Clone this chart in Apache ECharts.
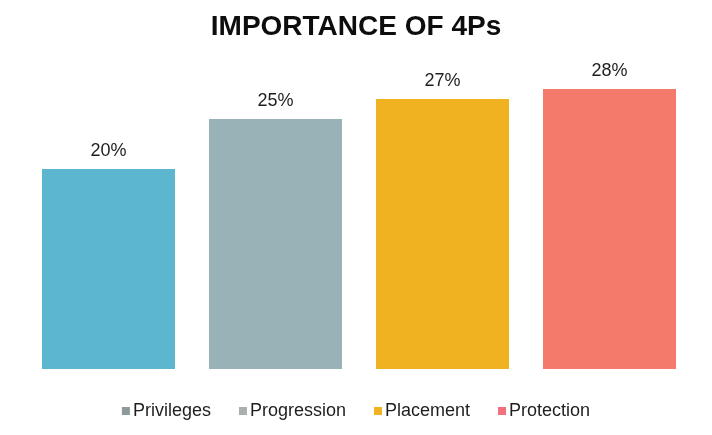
<!DOCTYPE html>
<html>
<head>
<meta charset="utf-8">
<script src="https://cdn.jsdelivr.net/npm/echarts@6/dist/echarts.min.js"></script>
<style>
  html, body { margin: 0; padding: 0; background: #ffffff; }
  #chart { width: 712px; height: 435px; }
</style>
</head>
<body>
<div id="chart"></div>
<script>
// Share of importance for each of the 4Ps (percent)
const categories = ['Privileges', 'Progression', 'Placement', 'Protection'];
const values = [20, 25, 27, 28];
const barColors = ['#5cb6d0', '#98b2b7', '#f1b221', '#f47b6b'];
const legendIconColors = ['#8d9a9a', '#a7afaf', '#f1b221', '#f0707e'];

const FONT = 'Arial';

const chart = echarts.init(document.getElementById('chart'));

// One series per category so each gets its own legend entry; stacking keeps bars centred.
const series = categories.map((name, i) => ({
  name: name,
  type: 'bar',
  stack: 'all',
  barWidth: 133,
  data: categories.map((_, j) => (j === i ? values[i] : '-')),
  itemStyle: { color: barColors[i] },
  label: {
    show: true,
    position: 'top',
    distance: 9,
    formatter: p => p.value + '%',
    color: '#1e1e1e',
    fontFamily: FONT,
    fontSize: 18
  }
}));

chart.setOption({
  backgroundColor: '#ffffff',
  animation: false,
  title: {
    text: 'IMPORTANCE OF 4Ps',
    left: 'center',
    top: 8,
    textStyle: {
      fontFamily: FONT,
      fontWeight: 'bold',
      fontSize: 28,
      color: '#0d0d0d'
    }
  },
  legend: {
    top: 397,
    left: 'center',
    itemWidth: 8,
    itemHeight: 8,
    itemGap: 28,
    icon: 'rect',
    textStyle: {
      fontFamily: FONT,
      fontSize: 18,
      color: '#1e1e1e',
      padding: [0, 0, 0, -2]
    },
    data: categories.map((name, i) => ({ name: name, itemStyle: { color: legendIconColors[i] } }))
  },
  grid: { left: 25, right: 19, top: 69, bottom: 66 },
  xAxis: {
    type: 'category',
    data: categories,
    axisLine: { show: false },
    axisTick: { show: false },
    axisLabel: { show: false }
  },
  yAxis: {
    type: 'value',
    min: 0,
    max: 30,
    show: false,
    splitLine: { show: false }
  },
  series: series
});
</script>
</body>
</html>
